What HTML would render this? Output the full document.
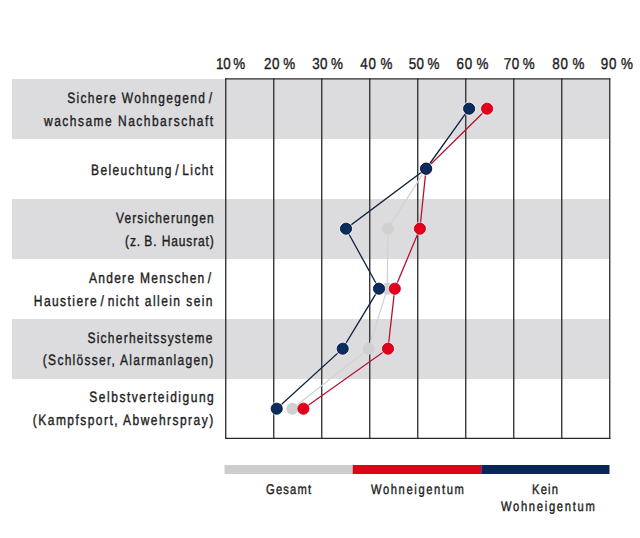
<!DOCTYPE html>
<html><head><meta charset="utf-8"><style>
html,body{margin:0;padding:0;background:#fff;width:640px;height:538px;overflow:hidden;}
svg{display:block;}
.t{font-family:"Liberation Sans",sans-serif;fill:#1e1e1e;stroke:#1e1e1e;stroke-width:0.4px;text-rendering:geometricPrecision;}
</style></head><body>
<svg width="640" height="538" viewBox="0 0 640 538">
<rect x="12" y="79" width="597.5" height="60" fill="#dcdcde"/>
<rect x="12" y="199" width="597.5" height="60" fill="#dcdcde"/>
<rect x="12" y="319" width="597.5" height="60" fill="#dcdcde"/>
<line x1="225.75" y1="78.3" x2="225.75" y2="438.9" stroke="#2b2b2b" stroke-width="1.3"/>
<line x1="273.75" y1="78.3" x2="273.75" y2="438.9" stroke="#2b2b2b" stroke-width="1.3"/>
<line x1="321.75" y1="78.3" x2="321.75" y2="438.9" stroke="#2b2b2b" stroke-width="1.3"/>
<line x1="369.75" y1="78.3" x2="369.75" y2="438.9" stroke="#2b2b2b" stroke-width="1.3"/>
<line x1="417.75" y1="78.3" x2="417.75" y2="438.9" stroke="#2b2b2b" stroke-width="1.3"/>
<line x1="465.75" y1="78.3" x2="465.75" y2="438.9" stroke="#2b2b2b" stroke-width="1.3"/>
<line x1="513.75" y1="78.3" x2="513.75" y2="438.9" stroke="#2b2b2b" stroke-width="1.3"/>
<line x1="561.75" y1="78.3" x2="561.75" y2="438.9" stroke="#2b2b2b" stroke-width="1.3"/>
<line x1="609.75" y1="78.3" x2="609.75" y2="438.9" stroke="#2b2b2b" stroke-width="1.3"/>
<line x1="225" y1="78.9" x2="610.2" y2="78.9" stroke="#2b2b2b" stroke-width="1.3"/>
<line x1="225" y1="438.3" x2="610.4" y2="438.3" stroke="#2b2b2b" stroke-width="1.3"/>
<polyline points="469.1,108.7 426.1,168.7 387.8,228.7 387.3,288.7 368.6,348.7 292.3,408.7" fill="none" stroke="#d3d3d3" stroke-width="1.3"/>
<circle cx="469.1" cy="108.7" r="6" fill="#d0d0d0"/><circle cx="426.1" cy="168.7" r="6" fill="#d0d0d0"/><circle cx="387.8" cy="228.7" r="6" fill="#d0d0d0"/><circle cx="387.3" cy="288.7" r="6" fill="#d0d0d0"/><circle cx="368.6" cy="348.7" r="6" fill="#d0d0d0"/><circle cx="292.3" cy="408.7" r="6" fill="#d0d0d0"/>
<polyline points="487.1,108.7 426.1,168.7 419.9,228.7 394.8,288.7 388.0,348.7 303.4,408.7" fill="none" stroke="#b5122f" stroke-width="1.3"/>
<circle cx="487.1" cy="108.7" r="6.5" fill="none" stroke="#ffe0e6" stroke-opacity="0.55" stroke-width="1.2"/><circle cx="487.1" cy="108.7" r="5.55" fill="#e2001a" stroke="#c2001c" stroke-width="0.9"/><circle cx="426.1" cy="168.7" r="6.5" fill="none" stroke="#ffe0e6" stroke-opacity="0.55" stroke-width="1.2"/><circle cx="426.1" cy="168.7" r="5.55" fill="#e2001a" stroke="#c2001c" stroke-width="0.9"/><circle cx="419.9" cy="228.7" r="6.5" fill="none" stroke="#ffe0e6" stroke-opacity="0.55" stroke-width="1.2"/><circle cx="419.9" cy="228.7" r="5.55" fill="#e2001a" stroke="#c2001c" stroke-width="0.9"/><circle cx="394.8" cy="288.7" r="6.5" fill="none" stroke="#ffe0e6" stroke-opacity="0.55" stroke-width="1.2"/><circle cx="394.8" cy="288.7" r="5.55" fill="#e2001a" stroke="#c2001c" stroke-width="0.9"/><circle cx="388.0" cy="348.7" r="6.5" fill="none" stroke="#ffe0e6" stroke-opacity="0.55" stroke-width="1.2"/><circle cx="388.0" cy="348.7" r="5.55" fill="#e2001a" stroke="#c2001c" stroke-width="0.9"/><circle cx="303.4" cy="408.7" r="6.5" fill="none" stroke="#ffe0e6" stroke-opacity="0.55" stroke-width="1.2"/><circle cx="303.4" cy="408.7" r="5.55" fill="#e2001a" stroke="#c2001c" stroke-width="0.9"/>
<polyline points="469.1,108.7 426.1,168.7 346.0,228.7 379.0,288.7 342.7,348.7 276.7,408.7" fill="none" stroke="#13213f" stroke-width="1.3"/>
<circle cx="469.1" cy="108.7" r="6.5" fill="none" stroke="#eef4ff" stroke-opacity="0.55" stroke-width="1.2"/><circle cx="469.1" cy="108.7" r="5.55" fill="#0a2d5e" stroke="#00163a" stroke-width="0.9"/><circle cx="426.1" cy="168.7" r="6.5" fill="none" stroke="#eef4ff" stroke-opacity="0.55" stroke-width="1.2"/><circle cx="426.1" cy="168.7" r="5.55" fill="#0a2d5e" stroke="#00163a" stroke-width="0.9"/><circle cx="346.0" cy="228.7" r="6.5" fill="none" stroke="#eef4ff" stroke-opacity="0.55" stroke-width="1.2"/><circle cx="346.0" cy="228.7" r="5.55" fill="#0a2d5e" stroke="#00163a" stroke-width="0.9"/><circle cx="379.0" cy="288.7" r="6.5" fill="none" stroke="#eef4ff" stroke-opacity="0.55" stroke-width="1.2"/><circle cx="379.0" cy="288.7" r="5.55" fill="#0a2d5e" stroke="#00163a" stroke-width="0.9"/><circle cx="342.7" cy="348.7" r="6.5" fill="none" stroke="#eef4ff" stroke-opacity="0.55" stroke-width="1.2"/><circle cx="342.7" cy="348.7" r="5.55" fill="#0a2d5e" stroke="#00163a" stroke-width="0.9"/><circle cx="276.7" cy="408.7" r="6.5" fill="none" stroke="#eef4ff" stroke-opacity="0.55" stroke-width="1.2"/><circle cx="276.7" cy="408.7" r="5.55" fill="#0a2d5e" stroke="#00163a" stroke-width="0.9"/>
<text transform="matrix(0.8,0,0,1,67.15,0)" x="0" y="103.1" font-size="15" class="t" textLength="181.06" lengthAdjust="spacing">Sichere Wohngegend /</text>
<text transform="matrix(0.8,0,0,1,44.00,0)" x="0" y="126.25" font-size="15" class="t" textLength="211.44" lengthAdjust="spacing">wachsame Nachbarschaft</text>
<text transform="matrix(0.8,0,0,1,91.05,0)" x="0" y="175.0" font-size="15" class="t" textLength="152.62" lengthAdjust="spacing">Beleuchtung / Licht</text>
<text transform="matrix(0.8,0,0,1,115.95,0)" x="0" y="223.3" font-size="15" class="t" textLength="122.31" lengthAdjust="spacing">Versicherungen</text>
<text transform="matrix(0.8,0,0,1,125.10,0)" x="0" y="246.3" font-size="15" class="t" textLength="110.87" lengthAdjust="spacing">(z. B. Hausrat)</text>
<text transform="matrix(0.8,0,0,1,88.95,0)" x="0" y="283.3" font-size="15" class="t" textLength="152.81" lengthAdjust="spacing">Andere Menschen /</text>
<text transform="matrix(0.8,0,0,1,33.82,0)" x="0" y="306.0" font-size="15" class="t" textLength="223.37" lengthAdjust="spacing">Haustiere / nicht allein sein</text>
<text transform="matrix(0.8,0,0,1,87.48,0)" x="0" y="342.8" font-size="15" class="t" textLength="156.25" lengthAdjust="spacing">Sicherheitssysteme</text>
<text transform="matrix(0.8,0,0,1,42.86,0)" x="0" y="365.4" font-size="15" class="t" textLength="213.03" lengthAdjust="spacing">(Schlösser, Alarmanlagen)</text>
<text transform="matrix(0.8,0,0,1,89.34,0)" x="0" y="402.3" font-size="15" class="t" textLength="155.52" lengthAdjust="spacing">Selbstverteidigung</text>
<text transform="matrix(0.8,0,0,1,32.86,0)" x="0" y="424.8" font-size="15" class="t" textLength="225.35" lengthAdjust="spacing">(Kampfsport, Abwehrspray)</text>
<text transform="matrix(0.8,0,0,1,266.05,0)" x="0" y="494.0" font-size="14" class="t" textLength="56.25" lengthAdjust="spacing">Gesamt</text>
<text transform="matrix(0.8,0,0,1,370.90,0)" x="0" y="494.0" font-size="14" class="t" textLength="116.19" lengthAdjust="spacing">Wohneigentum</text>
<text transform="matrix(0.8,0,0,1,532.10,0)" x="0" y="494.0" font-size="14" class="t" textLength="32.38" lengthAdjust="spacing">Kein</text>
<text transform="matrix(0.8,0,0,1,500.90,0)" x="0" y="510.9" font-size="14" class="t" textLength="117.44" lengthAdjust="spacing">Wohneigentum</text>
<text transform="matrix(0.85,0,0,1,216.05,0)" x="0" y="69.2" font-size="15.75" class="t" textLength="34.12" lengthAdjust="spacing">10 %</text>
<text transform="matrix(0.85,0,0,1,264.10,0)" x="0" y="69.2" font-size="15.75" class="t" textLength="36.64" lengthAdjust="spacing">20 %</text>
<text transform="matrix(0.85,0,0,1,312.24,0)" x="0" y="69.2" font-size="15.75" class="t" textLength="36.19" lengthAdjust="spacing">30 %</text>
<text transform="matrix(0.85,0,0,1,360.24,0)" x="0" y="69.2" font-size="15.75" class="t" textLength="37.98" lengthAdjust="spacing">40 %</text>
<text transform="matrix(0.85,0,0,1,408.72,0)" x="0" y="69.2" font-size="15.75" class="t" textLength="36.19" lengthAdjust="spacing">50 %</text>
<text transform="matrix(0.85,0,0,1,456.62,0)" x="0" y="69.2" font-size="15.75" class="t" textLength="37.36" lengthAdjust="spacing">60 %</text>
<text transform="matrix(0.85,0,0,1,503.72,0)" x="0" y="69.2" font-size="15.75" class="t" textLength="36.52" lengthAdjust="spacing">70 %</text>
<text transform="matrix(0.85,0,0,1,552.24,0)" x="0" y="69.2" font-size="15.75" class="t" textLength="37.93" lengthAdjust="spacing">80 %</text>
<text transform="matrix(0.85,0,0,1,600.76,0)" x="0" y="69.2" font-size="15.75" class="t" textLength="37.81" lengthAdjust="spacing">90 %</text>
<rect x="224.5" y="465" width="128.2" height="9" fill="#cdcdcd"/>
<rect x="352.7" y="465" width="128.55" height="9" fill="#e2001a"/>
<rect x="481.25" y="465" width="128.25" height="9" fill="#082756"/>
</svg>
</body></html>
